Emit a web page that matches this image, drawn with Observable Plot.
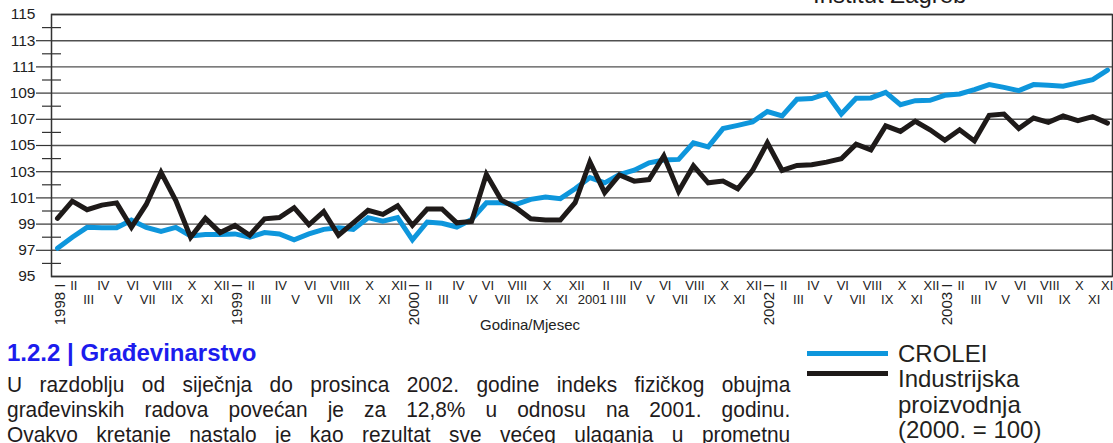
<!DOCTYPE html>
<html><head><meta charset="utf-8">
<script src="https://cdn.jsdelivr.net/npm/d3@7"></script>
<script src="https://cdn.jsdelivr.net/npm/@observablehq/plot@0.6"></script>
<style>
html,body{margin:0;padding:0;width:1113px;height:443px;overflow:hidden;background:#fff;}
body{position:relative;font-family:"Liberation Sans",Arial,sans-serif;color:#1f1b1c;}
#chart{position:absolute;left:0;top:0;}
.abs{position:absolute;white-space:nowrap;}
#src{left:813px;top:-17px;font-size:24px;line-height:24px;}
#heading{left:7px;top:341px;font-size:24px;line-height:24px;font-weight:bold;color:#1c1ced;}
#bodytext{position:absolute;left:7px;top:373px;}
#bodytext .ln{width:805px;transform:scaleX(0.973);transform-origin:0 0;font-size:21.5px;line-height:25px;height:25px;text-align:justify;text-align-last:justify;white-space:normal;}
#legend{position:absolute;left:807px;top:341px;}
.lg-swatch{position:absolute;left:0;width:81px;height:5px;}
.lg-label{position:absolute;left:91px;font-size:24px;line-height:25.5px;white-space:pre;color:#231f20;}
</style></head><body>
<div id="chart"></div>
<div class="abs" id="src"></div>
<div class="abs" id="heading">1.2.2 | Građevinarstvo</div>
<div id="bodytext"></div>
<div id="legend"></div>
<script>
// ---- data ----
const years = [1998, 1999, 2000, 2001, 2002, 2003];
const monthNames = ["I","II","III","IV","V","VI","VII","VIII","IX","X","XI","XII"];
const horizontalYearLabels = [2001];
const crolei = [
  97.15, 98.0, 98.75, 98.72, 98.72, 99.3, 98.75, 98.45, 98.75, 98.1, 98.2, 98.2,
  98.25, 98.0, 98.35, 98.25, 97.8, 98.25, 98.6, 98.72, 98.6, 99.49, 99.23, 99.49,
  97.8, 99.16, 99.06, 98.78, 99.36, 100.63, 100.63, 100.5, 100.89, 101.07, 100.94, 101.7,
  102.55, 102.15, 102.79, 103.12, 103.68, 103.89, 103.94, 105.2, 104.9, 106.29, 106.54, 106.8,
  107.59, 107.26, 108.53, 108.58, 108.96, 107.4, 108.6, 108.63, 109.06, 108.12, 108.42, 108.45,
  108.83, 108.93, 109.27, 109.65, 109.44, 109.19, 109.65, 109.6, 109.52, 109.78, 110.03, 110.75
];
const industrija = [
  99.44, 100.75, 100.1, 100.45, 100.62, 98.75, 100.5, 102.95, 100.8, 98.0, 99.44, 98.35,
  98.9, 98.15, 99.4, 99.5, 100.25, 98.95, 99.95, 98.15, 99.1, 100.05, 99.74, 100.4,
  98.9, 100.15, 100.15, 99.1, 99.2, 102.8, 100.85, 100.25, 99.41, 99.31, 99.31, 100.63,
  103.75, 101.4, 102.75, 102.28, 102.4, 104.2, 101.5, 103.45, 102.15, 102.28, 101.7, 103.1,
  105.2, 103.1, 103.48, 103.53, 103.73, 103.99, 105.1, 104.67, 106.5, 106.08, 106.85, 106.2,
  105.4, 106.2, 105.35, 107.3, 107.4, 106.3, 107.1, 106.77, 107.25, 106.89, 107.2, 106.71
];
const seriesNames = ["CROLEI", "Industrijska\nproizvodnja\n(2000. = 100)"];
const seriesColors = ["#0e96dc", "#1e1a19"];
const gridValues = [95, 97, 99, 101, 103, 105, 107, 109, 111, 113, 115];
const majorTicks = [97, 99, 101, 103, 105, 107, 109, 111, 113];
const minorTicks = [96, 98, 100, 102, 104, 106, 108, 110, 112, 114];
const xAxisTitle = "Godina/Mjesec";
const sourceText = "Institut Zagreb";
const bodyLines = [
  "U razdoblju od siječnja do prosinca 2002. godine indeks fizičkog obujma",
  "građevinskih radova povećan je za 12,8% u odnosu na 2001. godinu.",
  "Ovakvo kretanje nastalo je kao rezultat sve većeg ulaganja u prometnu"
];

// ---- table ----
const rows = [];
years.forEach((yr, yi) => monthNames.forEach((mn, mi) => {
  const i = yi * 12 + mi;
  rows.push({i, year: yr, month: mn, mi, crolei: crolei[i], industrija: industrija[i]});
}));
const upper = rows.filter(d => d.mi % 2 === 1);
const lower = rows.filter(d => d.mi > 0 && d.mi % 2 === 0);
const jan = rows.filter(d => d.mi === 0).map(d => ({...d, label: `${d.year} ${d.month}`}));
const janRot = jan.filter(d => !horizontalYearLabels.includes(d.year));
const janHor = jan.filter(d => horizontalYearLabels.includes(d.year));

const chart = Plot.plot({
  width: 1113, height: 340,
  marginLeft: 51, marginRight: 1, marginTop: 14, marginBottom: 64,
  x: {domain: [0, 71], insetLeft: 6, insetRight: 5, axis: null},
  y: {domain: [95, 115], label: null},
  style: {fontFamily: "'Liberation Sans', Arial, sans-serif", background: "transparent", overflow: "visible", color: "#222"},
  marks: [
    Plot.ruleY(gridValues, {stroke: "#505050", strokeWidth: 1.4}),
    Plot.frame({stroke: "#333", strokeWidth: 1.5}),
    Plot.axisY(majorTicks, {tickSize: 15, tickFormat: () => "", stroke: "#333", strokeWidth: 1.2, label: null}),
    Plot.axisY(minorTicks, {tickSize: 19, dx: 10, tickFormat: () => "", stroke: "#333", strokeWidth: 1.2, label: null}),
    Plot.axisY(gridValues, {tickSize: 0, tickPadding: 16, fontSize: 15.5, fill: "#222", label: null}),
    Plot.line(rows, {x: "i", y: "crolei", stroke: seriesColors[0], strokeWidth: 5, strokeLinejoin: "miter", strokeMiterlimit: 10}),
    Plot.line(rows, {x: "i", y: "industrija", stroke: seriesColors[1], strokeWidth: 5, strokeLinejoin: "miter", strokeMiterlimit: 10}),
    Plot.text(upper, {x: "i", text: "month", frameAnchor: "bottom", dy: 13, dx: 1.5, fontSize: 13, fill: "#222"}),
    Plot.text(lower, {x: "i", text: "month", frameAnchor: "bottom", dy: 27, dx: 1.5, fontSize: 13, fill: "#222"}),
    Plot.text(janRot, {x: "i", text: "label", frameAnchor: "bottom", dy: 7, dx: 7, rotate: -90, textAnchor: "end", fontSize: 15, fill: "#222"}),
    Plot.text(janHor, {x: "i", text: "label", frameAnchor: "bottom", dy: 27, dx: 24, textAnchor: "end", fontSize: 13, fill: "#222"}),
    Plot.text([xAxisTitle], {frameAnchor: "bottom", dx: -52, dy: 53, fontSize: 15, fill: "#222"})
  ]
});
document.getElementById("chart").appendChild(chart);

document.getElementById("src").textContent = sourceText;
const bt = document.getElementById("bodytext");
bodyLines.forEach(t => { const d = document.createElement("div"); d.className = "ln"; d.textContent = t; bt.appendChild(d); });

const lg = document.getElementById("legend");
const swatchTops = [9.5, 29.5];
const labelTops = [0, 25];
seriesNames.forEach((name, k) => {
  const sw = document.createElement("div");
  sw.className = "lg-swatch"; sw.style.top = swatchTops[k] + "px"; sw.style.background = seriesColors[k];
  lg.appendChild(sw);
  const lb = document.createElement("div");
  lb.className = "lg-label"; lb.style.top = labelTops[k] + "px"; lb.textContent = name;
  lg.appendChild(lb);
});
</script>
</body></html>
